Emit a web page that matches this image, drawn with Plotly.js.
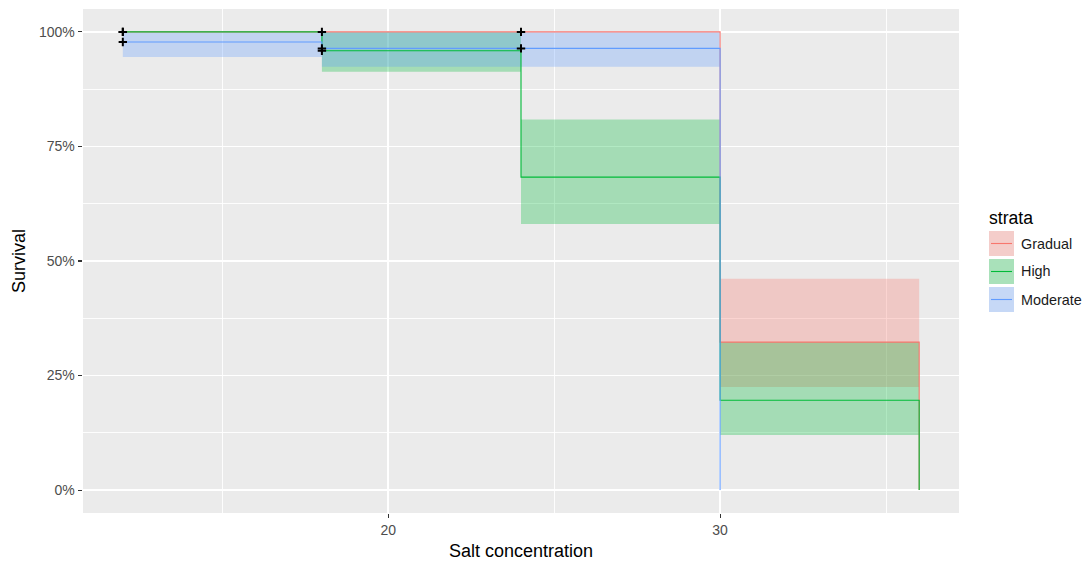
<!DOCTYPE html>
<html>
<head>
<meta charset="utf-8">
<script src="https://cdn.plot.ly/plotly-3.0.1.min.js"></script>
<style>
  html, body { margin: 0; padding: 0; background: #ffffff; }
  #chart { width: 1088px; height: 561px; }
</style>
</head>
<body>
<div id="chart"></div>
<script>
// Kaplan-Meier survival by salt-exposure strata
const strata = ["Gradual", "High", "Moderate"];
const colors = ["#F8766D", "#00BA38", "#619CFF"];

// Step times (salt concentration) for each stratum
const gradualTime = [12, 18, 24, 30, 36];
const highTime = [12, 18, 24, 30, 36];
const moderateTime = [12, 18, 24, 30];

// Survival estimates
const gradualSurv = [1, 1, 1, 0.323, 0];
const highSurv = [1, 0.959, 0.683, 0.196, 0];
const moderateSurv = [0.978, 0.964, 0.964, 0];

// Confidence limits (last value closes the final step)
const gradualUpper = [1, 1, 1, 0.461, 0.461];
const gradualLower = [1, 1, 1, 0.225, 0.225];
const highUpper = [1, 1, 0.809, 0.323, 0.323];
const highLower = [1, 0.913, 0.581, 0.12, 0.12];
const moderateUpper = [1, 1, 1, 1];
const moderateLower = [0.945, 0.924, 0.924, 0.924];

// Censored observations
const gradualCensorX = [12, 18, 24];
const gradualCensorY = [1, 1, 1];
const highCensorX = [12, 18];
const highCensorY = [1, 0.959];
const moderateCensorX = [12, 18, 24];
const moderateCensorY = [0.978, 0.964, 0.964];

const xTicks = [20, 30];
const xMinor = [15, 25, 35];
const yTicks = [0, 0.25, 0.5, 0.75, 1];
const yMinor = [0.125, 0.375, 0.625, 0.875];

const groups = [
  {time: gradualTime, surv: gradualSurv, up: gradualUpper, lo: gradualLower, cx: gradualCensorX, cy: gradualCensorY},
  {time: highTime, surv: highSurv, up: highUpper, lo: highLower, cx: highCensorX, cy: highCensorY},
  {time: moderateTime, surv: moderateSurv, up: moderateUpper, lo: moderateLower, cx: moderateCensorX, cy: moderateCensorY}
];

function rgba(hex, a) {
  const n = parseInt(hex.slice(1), 16);
  return `rgba(${(n >> 16) & 255},${(n >> 8) & 255},${n & 255},${a})`;
}

const traces = [];
// confidence ribbons
groups.forEach((g, i) => {
  traces.push({x: g.time, y: g.up, mode: "lines", line: {shape: "hv", width: 0, color: "rgba(0,0,0,0)"},
               showlegend: false, hoverinfo: "skip"});
  traces.push({x: g.time, y: g.lo, mode: "lines", line: {shape: "hv", width: 0, color: "rgba(0,0,0,0)"},
               fill: "tonexty", fillcolor: rgba(colors[i], 0.3), showlegend: false, hoverinfo: "skip"});
});
// survival steps
groups.forEach((g, i) => {
  traces.push({x: g.time, y: g.surv, mode: "lines", name: strata[i],
               line: {shape: "hv", width: 1.1, color: colors[i]}, showlegend: false});
});
// censor marks
groups.forEach((g, i) => {
  traces.push({x: g.cx, y: g.cy, mode: "markers", showlegend: false,
               marker: {symbol: "cross-thin", size: 6, color: "#000000", line: {width: 2, color: "#000000"}}});
});

// plot area geometry (pixels)
const M = {l: 83, r: 129, t: 9, b: 48};
const W = 1088 - M.l - M.r, H = 561 - M.t - M.b;
const px = x => (x - M.l) / W;
const py = y => (561 - M.b - y) / H;

const FONT = "Liberation Sans, Arial, sans-serif";
const shapes = [];
const annotations = [];

// legend
annotations.push({text: "strata", x: px(987), y: py(218), xref: "paper", yref: "paper",
  xanchor: "left", yanchor: "middle", showarrow: false,
  font: {family: FONT, size: 17.6, color: "#000000"}});
strata.forEach((s, i) => {
  const top = 231 + i * 28, bot = top + 25, mid = (top + bot) / 2;
  shapes.push({type: "rect", xref: "paper", yref: "paper", x0: px(989), x1: px(1014), y0: py(bot), y1: py(top),
    fillcolor: "#F2F2F2", line: {width: 0}});
  shapes.push({type: "rect", xref: "paper", yref: "paper", x0: px(989), x1: px(1014), y0: py(bot), y1: py(top),
    fillcolor: rgba(colors[i], 0.3), line: {width: 0}});
  shapes.push({type: "line", xref: "paper", yref: "paper", x0: px(991), x1: px(1012), y0: py(mid), y1: py(mid),
    line: {color: colors[i], width: 1.1}});
  annotations.push({text: s, x: px(1019), y: py(mid), xref: "paper", yref: "paper",
    xanchor: "left", yanchor: "middle", showarrow: false,
    font: {family: FONT, size: 14.4, color: "#1A1A1A"}});
});

const tickFont = {family: FONT, size: 14, color: "#4D4D4D"};
const titleFont = {family: FONT, size: 18, color: "#000000"};

const layout = {
  width: 1088, height: 561,
  margin: M,
  paper_bgcolor: "#ffffff",
  plot_bgcolor: "#EBEBEB",
  showlegend: false,
  xaxis: {
    range: [10.8, 37.2], tickvals: xTicks, ticktext: xTicks.map(String),
    ticks: "outside", ticklen: 4.4, tickwidth: 1.1, tickcolor: "#333333",
    showgrid: true, gridcolor: "#FFFFFF", gridwidth: 1.8, zeroline: false, showline: false,
    minor: {tickvals: xMinor, showgrid: true, gridcolor: "#FFFFFF", gridwidth: 0.9, ticks: ""},
    tickfont: tickFont,
    title: {text: "Salt concentration", font: titleFont, standoff: 9},
    automargin: false
  },
  yaxis: {
    range: [-0.05, 1.05], tickvals: yTicks, tickformat: ".0%",
    ticks: "outside", ticklen: 4.4, tickwidth: 1.1, tickcolor: "#333333",
    showgrid: true, gridcolor: "#FFFFFF", gridwidth: 1.8, zeroline: false, showline: false,
    minor: {tickvals: yMinor, showgrid: true, gridcolor: "#FFFFFF", gridwidth: 0.9, ticks: ""},
    tickfont: tickFont,
    title: {text: "Survival", font: titleFont, standoff: 8},
    automargin: false
  },
  shapes: shapes,
  annotations: annotations
};

Plotly.newPlot("chart", traces, layout, {staticPlot: true, displayModeBar: false});
</script>
</body>
</html>
